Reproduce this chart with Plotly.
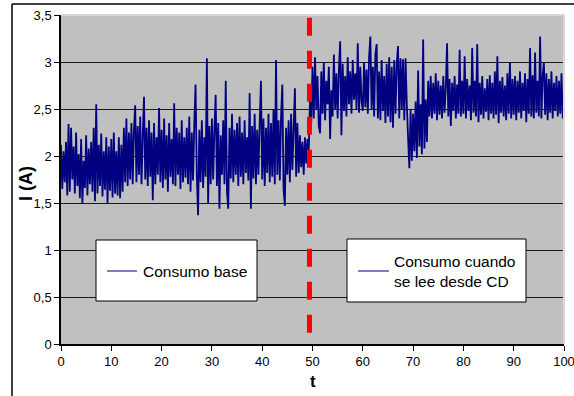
import plotly.graph_objects as go

# Current I (A) sampled every 0.25 t
corriente = [
    # 0-5
    2.12, 1.65, 2.05, 1.72, 2.15, 1.58, 2.34, 1.62, 2.30, 1.75, 2.10, 1.60, 2.25, 1.68, 2.02, 1.55, 2.18, 1.49, 1.95, 1.66,
    # 5-10
    2.22, 1.58, 2.08, 1.70, 2.15, 1.62, 2.30, 1.52, 2.55, 1.60, 2.12, 1.68, 2.24, 1.57, 2.05, 1.64, 2.20, 1.50, 2.10, 1.63,
    # 10-12.5
    2.18, 1.56, 2.25, 1.60, 2.05, 1.58, 2.20, 1.55, 2.12, 1.62,
    # 12.5-15
    2.30, 1.72, 2.40, 1.68, 2.25, 1.75, 2.35, 1.70, 2.28, 2.54,
    # 15-20
    1.72, 2.32, 1.80, 2.42, 1.70, 2.20, 2.63, 1.75, 2.30, 1.68, 2.38, 1.78, 2.25, 1.53, 2.35, 1.70, 2.20, 1.80, 2.51, 1.72,
    # 20-25
    2.28, 1.66, 2.40, 1.75, 2.22, 1.62, 2.35, 1.78, 2.18, 1.70, 2.56, 1.68, 2.30, 1.80, 2.25, 1.65, 2.38, 1.72, 2.20, 1.77,
    # 25-30
    2.30, 1.70, 2.42, 1.62, 2.25, 1.74, 2.35, 2.76, 1.80, 1.37, 2.28, 1.72, 2.38, 1.66, 2.20, 1.78, 3.04, 1.49, 2.32, 1.70,
    # 30-35
    2.40, 1.75, 2.30, 2.65, 1.68, 2.35, 1.44, 2.22, 1.80, 2.38, 1.70, 2.80, 1.62, 1.44, 2.30, 1.76, 2.45, 1.72, 2.28, 1.80,
    # 35-40
    2.35, 1.68, 2.42, 1.78, 2.25, 1.70, 2.38, 1.82, 2.20, 1.74, 2.67, 1.44, 2.32, 1.76, 2.45, 1.70, 2.28, 1.80, 2.36, 2.80,
    # 40-45
    1.75, 2.40, 1.68, 2.30, 1.82, 2.45, 1.72, 2.35, 1.78, 2.50, 1.70, 3.02, 1.80, 2.38, 1.74, 2.42, 2.76, 1.65, 1.47, 2.30,
    # 45-50
    1.80, 2.38, 1.72, 2.45, 1.85, 2.30, 2.72, 1.78, 2.35, 1.82, 2.22, 1.88, 2.15, 1.80, 2.20, 1.92, 2.18, 2.05, 2.60, 2.35,
    # 50-55
    2.95, 2.40, 3.05, 2.50, 2.85, 2.32, 2.24, 2.90, 2.45, 3.00, 2.38, 2.80, 2.55, 2.95, 2.18, 2.70, 2.42, 3.08, 2.50, 2.88,
    # 55-60
    2.40, 2.92, 3.22, 2.22, 2.98, 2.48, 2.85, 2.42, 3.05, 2.55, 2.90, 2.45, 3.02, 2.60, 2.88, 2.50, 3.20, 2.46, 2.95, 2.58,
    # 60-65
    2.48, 3.00, 2.52, 2.92, 2.45, 3.05, 3.27, 2.50, 2.95, 2.42, 3.08, 3.19, 2.40, 2.90, 2.38, 3.02, 2.48, 2.85, 2.35, 2.98,
    # 65-70
    2.42, 3.05, 2.36, 2.95, 2.30, 3.02, 2.45, 2.98, 3.17, 2.40, 3.04, 2.50, 3.03, 2.38, 3.04, 2.55, 2.20, 1.87, 2.50, 1.95,
    # 70-75
    2.45, 2.05, 2.58, 1.98, 2.91, 2.10, 2.55, 2.02, 3.24, 2.08, 2.60, 2.15, 2.80, 2.42, 2.85, 2.40, 2.78, 2.45, 2.88, 2.38,
    # 75-80
    2.80, 2.44, 2.75, 2.40, 2.85, 2.46, 2.72, 3.20, 2.42, 2.82, 2.32, 2.78, 2.48, 2.85, 2.40, 2.76, 2.45, 3.13, 2.42, 2.80,
    # 80-85
    2.45, 3.06, 2.40, 2.82, 2.48, 2.75, 2.38, 3.15, 2.46, 2.80, 2.42, 3.19, 2.36, 2.78, 2.44, 2.85, 2.40, 2.72, 2.47, 2.82,
    # 85-90
    2.38, 2.86, 2.45, 2.78, 2.40, 2.90, 2.44, 3.06, 2.35, 2.80, 2.46, 2.84, 2.42, 2.75, 2.38, 2.88, 2.45, 3.00, 2.40, 2.82,
    # 90-95
    2.44, 2.85, 2.38, 2.80, 2.46, 2.90, 2.40, 2.78, 2.48, 2.88, 2.36, 2.82, 2.45, 3.15, 2.42, 2.86, 2.40, 3.10, 2.46, 2.80,
    # 95-100
    2.42, 3.27, 2.40, 2.85, 3.00, 2.44, 2.88, 2.38, 2.82, 2.46, 2.90, 2.40, 2.78, 2.48, 2.85, 2.42, 2.80, 2.45, 2.88, 2.40, 2.60,
]
paso_t = 0.25
t = [i * paso_t for i in range(len(corriente))]

t_cambio = 49.4  # moment the CD starts to be read
x_ticks = [0, 10, 20, 30, 40, 50, 60, 70, 80, 90, 100]
y_ticks = [0, 0.5, 1, 1.5, 2, 2.5, 3, 3.5]
leyenda_base = "Consumo base"
leyenda_cd = "Consumo cuando<br>se lee desde CD"

FONT = "Liberation Sans, Arial, sans-serif"

fig = go.Figure()
fig.add_trace(go.Scatter(x=t, y=corriente, mode="lines",
                         line=dict(color="#000080", width=1.8, simplify=False), showlegend=False,
                         hoverinfo="skip"))

W, H = 574, 396
L, R, T, B = 61, 10, 15, 52
pw, ph = W - L - R, H - T - B


def px(xp):
    return (xp - L) / pw


def py(yp):
    return (H - B - yp) / ph


shapes = []
# outer chart frame (left & top edges visible)
shapes.append(dict(type="line", xref="paper", yref="paper", x0=px(12), x1=px(12), y0=py(4), y1=py(420),
                   line=dict(color="black", width=1.5), layer="above"))
shapes.append(dict(type="line", xref="paper", yref="paper", x0=px(12), x1=px(600), y0=py(4), y1=py(4),
                   line=dict(color="black", width=1.5), layer="above"))
# plot area light border top/right
shapes.append(dict(type="line", xref="paper", yref="paper", x0=0, x1=1, y0=1, y1=1,
                   line=dict(color="#d6d6d6", width=2), layer="above"))
shapes.append(dict(type="line", xref="paper", yref="paper", x0=1, x1=1, y0=0, y1=1,
                   line=dict(color="#d6d6d6", width=2), layer="above"))
# red dashed separator
shapes.append(dict(type="line", xref="x", yref="y", x0=t_cambio, x1=t_cambio, y0=3.47, y1=0,
                   line=dict(color="#ff0000", width=5, dash="18px,15px"), layer="above"))
# legend boxes
shapes.append(dict(type="rect", xref="paper", yref="paper", x0=px(96), x1=px(257), y0=py(301), y1=py(240),
                   fillcolor="white", line=dict(color="black", width=1), layer="above"))
shapes.append(dict(type="line", xref="paper", yref="paper", x0=px(107), x1=px(137), y0=py(271), y1=py(271),
                   line=dict(color="#000080", width=1), layer="above"))
shapes.append(dict(type="rect", xref="paper", yref="paper", x0=px(347), x1=px(526), y0=py(302), y1=py(239),
                   fillcolor="white", line=dict(color="black", width=1), layer="above"))
shapes.append(dict(type="line", xref="paper", yref="paper", x0=px(358), x1=px(389), y0=py(271), y1=py(271),
                   line=dict(color="#000080", width=1), layer="above"))

annotations = [
    dict(text=leyenda_base, xref="paper", yref="paper", x=px(141), y=py(271), xanchor="left", yanchor="middle",
         showarrow=False, font=dict(family=FONT, size=15.5, color="black")),
    dict(text=leyenda_cd, xref="paper", yref="paper", x=px(392), y=py(271), xanchor="left", yanchor="middle",
         showarrow=False, align="left", font=dict(family=FONT, size=15.5, color="black")),
    dict(text="<b>I (A)</b>", xref="paper", yref="paper", x=px(26), y=py(184), xanchor="center", yanchor="middle",
         textangle=-90, showarrow=False, font=dict(family=FONT, size=18, color="black")),
    dict(text="<b>t</b>", xref="paper", yref="paper", x=px(313), y=py(381), xanchor="center", yanchor="middle",
         showarrow=False, font=dict(family=FONT, size=17, color="black")),
]

fig.update_layout(
    width=W, height=H,
    margin=dict(l=L, r=R, t=T, b=B, pad=0, autoexpand=False),
    paper_bgcolor="white", plot_bgcolor="#c0c0c0",
    separators=",.",
    font=dict(family=FONT, size=13, color="black"),
    shapes=shapes, annotations=annotations,
    showlegend=False,
)
fig.update_xaxes(range=[0, 100], tickvals=x_ticks, showgrid=False, zeroline=False, automargin=False,
                 showline=True, linecolor="black", linewidth=1.5, ticklabeloverflow="allow",
                 ticks="outside", ticklen=5, tickcolor="black", tickwidth=1,
                 tickfont=dict(family=FONT, size=13, color="black"))
fig.update_yaxes(range=[0, 3.5], tickvals=y_ticks, showgrid=True, gridcolor="#1a1a1a", gridwidth=1,
                 zeroline=False, showline=True, linecolor="black", linewidth=1.5, automargin=False,
                 ticks="outside", ticklen=5, tickcolor="black", tickwidth=1,
                 tickfont=dict(family=FONT, size=13, color="black"))

fig.write_html("out.html", config={"displayModeBar": False},
               post_script="document.body.style.margin='0';document.body.style.padding='0';")
